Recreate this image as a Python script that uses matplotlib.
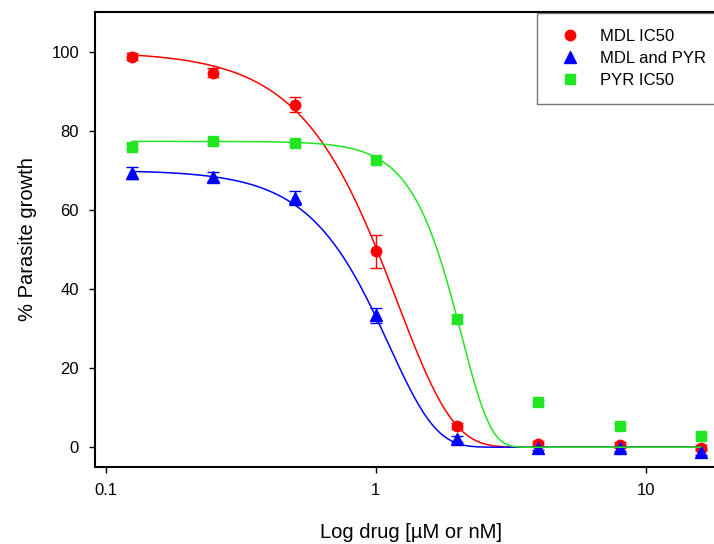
import numpy as np
import matplotlib
matplotlib.use("Agg")
import matplotlib.pyplot as plt
from matplotlib.lines import Line2D

plt.rcParams['font.family'] = ['Liberation Sans', 'DejaVu Sans']

# drug concentrations
conc = [0.125, 0.25, 0.5, 1, 2, 4, 8, 16]

# % parasite growth (mean and error)
mdl = [98.7, 94.7, 86.6, 49.5, 5.3, 0.8, 0.5, -0.2]
mdl_err = [0.9, 1.2, 1.8, 4.2, 0.8, 0.7, 0.7, 0.7]
combo = [69.2, 68.4, 62.9, 33.3, 2.0, -0.2, -0.3, -1.2]
combo_err = [1.5, 1.2, 1.8, 1.8, 0.8, 0.6, 0.6, 0.8]
pyr = [76.0, 77.3, 76.8, 72.7, 32.3, 11.4, 5.3, 2.9]
pyr_err = [0.6, 0.6, 0.6, 0.8, 0.8, 0.5, 0.5, 0.5]

# fitted curve parameters (top, midpoint, slope)
mdl_fit = [100.0, 1.2, 2.1]
combo_fit = [70.0, 1.12, 2.5]
pyr_fit = [77.3, 2.075, 4.0]

labels = ['MDL IC50', 'MDL and PYR', 'PYR IC50']
colors = ['#ff0000', '#0000ff', '#22e622']
markers = ['o', '^', 's']
msizes = [7.5, 8, 6.5]


def curve(x, p):
    return p[0] * np.exp(-(x / p[1]) ** p[2])


fig = plt.figure(figsize=(7.14, 5.44), dpi=100)
ax = fig.add_axes([95 / 714, 77 / 544, 632 / 714, 455 / 544])

xs = np.logspace(np.log10(conc[0]), np.log10(conc[-1]), 400)
series = [(mdl, mdl_err, mdl_fit), (combo, combo_err, combo_fit), (pyr, pyr_err, pyr_fit)]
for i, (vals, errs, fit) in enumerate(series):
    ax.errorbar(conc, vals, yerr=errs, fmt=markers[i], color=colors[i],
                ms=msizes[i], elinewidth=1, capsize=4.5, capthick=1, zorder=2)
for i, (vals, errs, fit) in enumerate(series):
    ax.plot(xs, curve(xs, fit), color=colors[i], lw=1.1, zorder=3)

ax.set_xscale('log')
ax.set_xlim(0.0911, 20)
ax.set_ylim(-5, 110)
ax.set_xticks([0.1, 1, 10])
ax.set_xticklabels(['0.1', '1', '10'])
ax.xaxis.set_minor_locator(matplotlib.ticker.NullLocator())
ax.set_yticks([0, 20, 40, 60, 80, 100])
ax.tick_params(axis='both', direction='out', length=4.5, width=1, labelsize=12, pad=7)
for s in ax.spines.values():
    s.set_linewidth(1.5)

ax.set_xlabel('Log drug [\u00b5M or nM]', fontsize=14.5, labelpad=18)
ax.set_ylabel('% Parasite growth', fontsize=14.5, labelpad=10)

handles = [Line2D([], [], ls='none', marker=markers[i], color=colors[i], ms=msizes[i])
           for i in range(3)]
leg = fig.legend(handles, labels, loc='upper left', bbox_to_anchor=(537 / 714, 1 - 13 / 544),
                 fontsize=12, frameon=True, fancybox=False, borderpad=0.95,
                 handlelength=2.0, handletextpad=0.8, labelspacing=0.42,
                 borderaxespad=0)
leg.get_frame().set_edgecolor('#555555')
leg.get_frame().set_linewidth(1)

fig.savefig('out.png', dpi=100)
